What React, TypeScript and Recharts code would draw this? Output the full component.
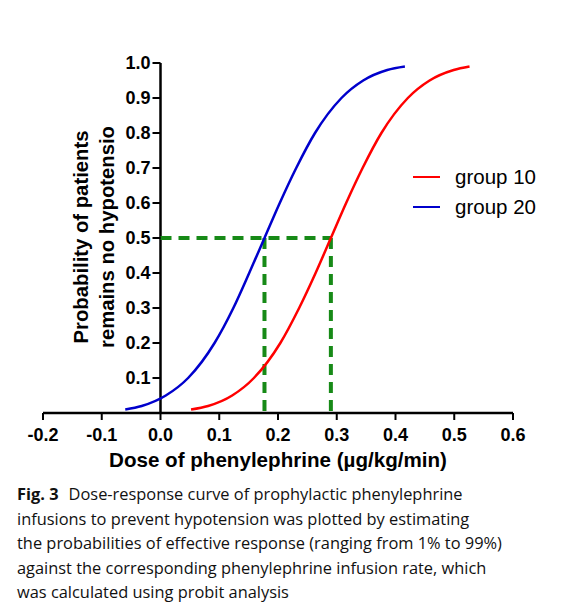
import { ComposedChart, Line, XAxis, YAxis, Scatter, ReferenceLine, Legend } from 'recharts';

// probability levels read along the y axis
const probLevels = [0.01, 0.02, 0.05, 0.1, 0.2, 0.3, 0.4, 0.5, 0.6, 0.7, 0.8, 0.9, 0.95, 0.98, 0.99];
// dose at those levels (µg/kg/min)
const group10Dose = [0.052, 0.081, 0.122, 0.159, 0.204, 0.236, 0.264, 0.29, 0.316, 0.344, 0.376, 0.421, 0.458, 0.499, 0.526];
const group20Dose = [-0.06, -0.032, 0.009, 0.047, 0.092, 0.124, 0.151, 0.177, 0.203, 0.231, 0.263, 0.308, 0.345, 0.386, 0.416];

// ED50 of each group (where the dashed lines drop)
const ed50 = [0.29, 0.177];

const xTicks = [-0.2, -0.1, 0, 0.1, 0.2, 0.3, 0.4, 0.5, 0.6];
const yTicks = [0.1, 0.2, 0.3, 0.4, 0.5, 0.6, 0.7, 0.8, 0.9, 1.0];

const group10 = probLevels.map((p, i) => ({ x: group10Dose[i], y: p }));
const group20 = probLevels.map((p, i) => ({ x: group20Dose[i], y: p }));
const yTickPoints = yTicks.map((v) => ({ x: 0, y: v }));

const GREEN = '#178a17';
const FONT = '"Liberation Sans", Arial, sans-serif';

// y axis sits at x = 0, so its ticks are drawn as points on that line
const YTick = (props: any) => {
  const { cx, cy, payload } = props;
  return (
    <g>
      <line x1={cx - 8} y1={cy} x2={cx} y2={cy} stroke="#000" strokeWidth={2} />
      <text
        x={cx - 10}
        y={cy}
        dy="0.36em"
        textAnchor="end"
        fontSize={18}
        fontWeight="bold"
        fontFamily={FONT}
        fill="#000"
      >
        {payload.y.toFixed(1)}
      </text>
    </g>
  );
};

const LegendContent = ({ payload }: any) => (
  <div style={{ fontFamily: FONT, fontSize: 20.5, color: '#000' }}>
    {(payload || [])
      .filter((p: any) => p.type !== 'none')
      .map((p: any) => (
        <div key={p.value} style={{ display: 'flex', alignItems: 'center', height: 30 }}>
          <span style={{ display: 'inline-block', width: 27, height: 2.5, background: p.color, marginRight: 15 }} />
          <span>{p.value}</span>
        </div>
      ))}
  </div>
);

export default function App() {
  return (
    <div style={{ position: 'absolute', left: 0, top: 0, width: 565, height: 613, background: '#fff', fontFamily: FONT }}>
      <ComposedChart width={565} height={480} margin={{ top: 63, right: 52, bottom: 7, left: 43 }}>
        <XAxis
          type="number"
          dataKey="x"
          domain={[-0.2, 0.6]}
          ticks={xTicks}
          interval={0}
          allowDataOverflow
          tickFormatter={(v: number) => v.toFixed(1)}
          axisLine={{ stroke: '#000', strokeWidth: 2.5 }}
          tickLine={{ stroke: '#000', strokeWidth: 2 }}
          tickSize={7}
          tickMargin={8}
          tick={{ fontSize: 18, fontWeight: 'bold', fill: '#000', fontFamily: FONT }}
          height={60}
          label={{
            value: 'Dose of phenylephrine (µg/kg/min)',
            position: 'insideBottom',
            offset: 6,
            fontSize: 20.6,
            fontWeight: 'bold',
            fill: '#000',
            fontFamily: FONT,
          }}
        />
        <YAxis type="number" dataKey="y" domain={[0, 1]} hide />
        <ReferenceLine x={0} stroke="#000" strokeWidth={2.5} />
        <ReferenceLine
          segment={[{ x: 0, y: 0.5 }, { x: ed50[0], y: 0.5 }]}
          stroke={GREEN}
          strokeWidth={4}
          strokeDasharray="11 7"
        />
        {ed50.map((d) => (
          <ReferenceLine
            key={d}
            segment={[{ x: d, y: 0.5 }, { x: d, y: 0 }]}
            stroke={GREEN}
            strokeWidth={4}
            strokeDasharray="11 7"
          />
        ))}
        <Line
          data={group10}
          dataKey="y"
          name="group 10"
          type="monotone"
          stroke="#ff0000"
          strokeWidth={2.5}
          dot={false}
          isAnimationActive={false}
        />
        <Line
          data={group20}
          dataKey="y"
          name="group 20"
          type="monotone"
          stroke="#0000cc"
          strokeWidth={2.5}
          dot={false}
          isAnimationActive={false}
        />
        <Scatter data={yTickPoints} dataKey="y" shape={YTick} legendType="none" isAnimationActive={false} />
        <Legend
          layout="vertical"
          align="center"
          verticalAlign="middle"
          content={<LegendContent />}
          wrapperStyle={{ left: 413, top: 162, width: 140 }}
        />
      </ComposedChart>

      <svg width={565} height={480} style={{ position: 'absolute', left: 0, top: 0, pointerEvents: 'none' }}>
        <g fontSize={20.3} fontWeight="bold" fontFamily={FONT} fill="#000" textAnchor="middle">
          <text transform="translate(88,237) rotate(-90)">Probability of patients</text>
          <text transform="translate(114,237) rotate(-90)">remains no hypotensio</text>
        </g>
      </svg>

      <div
        style={{
          position: 'absolute',
          left: 17,
          top: 482,
          fontFamily: '"Open Sans", sans-serif',
          fontSize: 16.4,
          lineHeight: '24.5px',
          color: '#111',
          whiteSpace: 'nowrap',
        }}
      >
        <b>Fig. 3</b>
        <span style={{ marginLeft: 10 }}>Dose-response curve of prophylactic phenylephrine</span>
        <br />
        infusions to prevent hypotension was plotted by estimating
        <br />
        the probabilities of effective response (ranging from 1% to 99%)
        <br />
        against the corresponding phenylephrine infusion rate, which
        <br />
        was calculated using probit analysis
      </div>
    </div>
  );
}
